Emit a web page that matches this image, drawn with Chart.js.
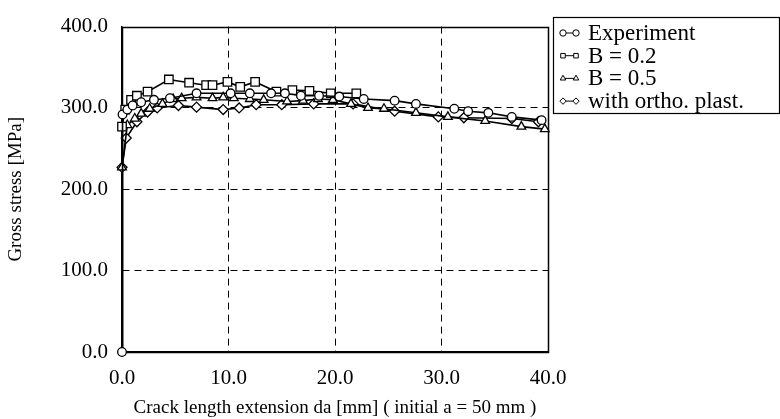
<!DOCTYPE html>
<html>
<head>
<meta charset="utf-8">
<script src="https://cdn.jsdelivr.net/npm/chart.js@4/dist/chart.umd.min.js"></script>
<style>
  html, body { margin: 0; padding: 0; background: #fff; }
  #wrap { width: 780px; height: 419px; }
</style>
</head>
<body>
<div id="wrap"><canvas id="c" width="780" height="419"></canvas></div>
<script>
// crack length extension da [mm] and gross stress [MPa]
const expX = [0, 0.05, 0.5, 1.0, 1.8, 3.0, 4.5, 7.0, 10.2, 12.0, 14.0, 15.3, 16.8, 18.5, 20.4, 22.7, 25.6, 27.6, 31.2, 32.5, 34.4, 36.6, 39.4];
const expY = [0, 292, 298, 303, 307, 310, 312, 318, 318, 318, 318, 318, 315, 315, 314, 311, 309, 305, 299, 296, 294, 289, 285];

const b02X = [0, 0.3, 0.85, 1.4, 2.4, 4.4, 6.3, 7.9, 8.5, 9.9, 11.1, 12.5, 14.5, 16.0, 17.6, 19.6, 22.0];
const b02Y = [277, 298, 310, 315, 320, 335, 331, 328, 328, 332, 326, 332, 320, 322, 321, 318, 318];

const b05X = [0, 0.5, 1.2, 1.8, 2.6, 3.8, 4.8, 5.6, 7.0, 8.5, 9.5, 10.5, 12.0, 13.3, 15.5, 17.0, 18.4, 19.8, 21.5, 23.1, 24.6, 27.6, 30.6, 34.1, 37.5, 39.7];
const b05Y = [227, 279, 287, 293, 299, 305, 311, 312, 313, 312, 313, 312, 311, 310, 308, 309, 311, 310, 305, 300, 299, 294, 289, 284, 277, 274];

const orthoX = [0, 0.4, 1.4, 2.4, 3.3, 5.3, 7.0, 9.5, 11.0, 12.6, 15.0, 18.0, 21.7, 25.6, 29.7, 32.1, 36.6, 39.1];
const orthoY = [227, 263, 283, 295, 300, 303, 301, 298, 300, 304, 304, 305, 305, 296, 289, 288, 287, 283];

const seriesNames = ["Experiment", "B = 0.2", "B = 0.5", "with ortho. plast."];
const seriesMarkers = ["circle", "rect", "triangle", "rectRot"];

const xTicks = [0, 10, 20, 30, 40];
const yTicks = [0, 100, 200, 300, 400];

const FONT = "Liberation Serif";

function pts(xs, ys) {
    return xs.map((x, i) => ({ x: x, y: ys[i] }));
}

function makeSet(label, data, style, radius) {
    return {
        label: label,
        data: data,
        borderColor: "#000",
        borderWidth: 1.6,
        backgroundColor: "#fff",
        pointStyle: style,
        pointRadius: radius,
        pointBorderWidth: 1.3,
        pointBorderColor: "#000",
        pointBackgroundColor: "#fff",
        showLine: true,
        tension: 0,
        clip: false
    };
}

// closes the frame on top and right
const frame = {
    id: "frame",
    beforeDatasetsDraw(chart) {
        const { ctx, chartArea: a } = chart;
        ctx.save();
        ctx.strokeStyle = "#000";
        ctx.lineWidth = 1.5;
        ctx.strokeRect(Math.round(a.left) + 0.5, Math.round(a.top) + 0.5,
                       Math.round(a.right - a.left), Math.round(a.bottom - a.top));
        ctx.restore();
    }
};

// boxed legend right of the plot
const boxLegend = {
    id: "boxLegend",
    afterDraw(chart) {
        const ctx = chart.ctx;
        const left = 553, top = 17, right = 779, bottom = 113;
        ctx.save();
        ctx.strokeStyle = "#000";
        ctx.lineWidth = 1.2;
        ctx.strokeRect(left + 0.5, top + 0.5, right - left, bottom - top);
        ctx.font = "23px '" + FONT + "'";
        ctx.textBaseline = "middle";
        seriesNames.forEach((name, i) => {
            const y = 33 + i * 22.7;
            ctx.strokeStyle = "#000";
            ctx.lineWidth = 1;
            ctx.beginPath();
            ctx.moveTo(563, y);
            ctx.lineTo(576, y);
            ctx.stroke();
            [563, 576].forEach(px => {
                ctx.fillStyle = "#fff";
                ctx.strokeStyle = "#000";
                Chart.helpers.drawPoint(ctx, {
                    pointStyle: seriesMarkers[i],
                    radius: 3.2,
                    borderWidth: 1,
                    rotation: 0
                }, px, y);
            });
            ctx.fillStyle = "#000";
            ctx.fillText(name, 588, y + 1);
        });
        ctx.restore();
    }
};

const ctx = document.getElementById("c");

new Chart(ctx, {
    type: "scatter",
    data: {
        datasets: [
            makeSet(seriesNames[0], pts(expX, expY), "circle", 4.3),
            makeSet(seriesNames[1], pts(b02X, b02Y), "rect", 6),
            makeSet(seriesNames[2], pts(b05X, b05Y), "triangle", 5),
            makeSet(seriesNames[3], pts(orthoX, orthoY), "rectRot", 5)
        ]
    },
    options: {
        responsive: false,
        animation: false,
        layout: {
            padding: { top: 18, right: 232, bottom: 0, left: 0 }
        },
        scales: {
            x: {
                type: "linear",
                min: 0,
                max: 40,
                afterFit: function(scale) { scale.height = 67; },
                afterBuildTicks: function(scale) {
                    scale.ticks = xTicks.map(v => ({ value: v }));
                },
                grid: {
                    color: c => (c.index === 0 || c.index === xTicks.length - 1) ? "rgba(0,0,0,0)" : "#000",
                    lineWidth: 1,
                    drawTicks: false
                },
                border: { display: true, color: "#000", width: 1.5, dash: [7, 5] },
                ticks: {
                    color: "#000",
                    padding: 14,
                    font: { family: FONT, size: 21 },
                    callback: v => v.toFixed(1)
                },
                title: {
                    display: true,
                    text: "Crack length extension da [mm] ( initial a = 50 mm )",
                    color: "#000",
                    font: { family: FONT, size: 19 },
                    padding: { top: 3, bottom: 0 }
                }
            },
            y: {
                type: "linear",
                min: 0,
                max: 400,
                afterFit: function(scale) { scale.width = 122; },
                afterBuildTicks: function(scale) {
                    scale.ticks = yTicks.map(v => ({ value: v }));
                },
                grid: {
                    color: c => (c.index === 0 || c.index === yTicks.length - 1) ? "rgba(0,0,0,0)" : "#000",
                    lineWidth: 1,
                    drawTicks: false
                },
                border: { display: true, color: "#000", width: 1.5, dash: [7, 5] },
                ticks: {
                    color: "#000",
                    padding: 14,
                    font: { family: FONT, size: 21 },
                    callback: v => v.toFixed(1)
                },
                title: {
                    display: true,
                    text: "Gross stress [MPa]",
                    color: "#000",
                    font: { family: FONT, size: 19 },
                    padding: { top: 5, bottom: 0 }
                }
            }
        },
        plugins: {
            legend: { display: false },
            tooltip: { enabled: false }
        }
    },
    plugins: [frame, boxLegend]
});
</script>
</body>
</html>
